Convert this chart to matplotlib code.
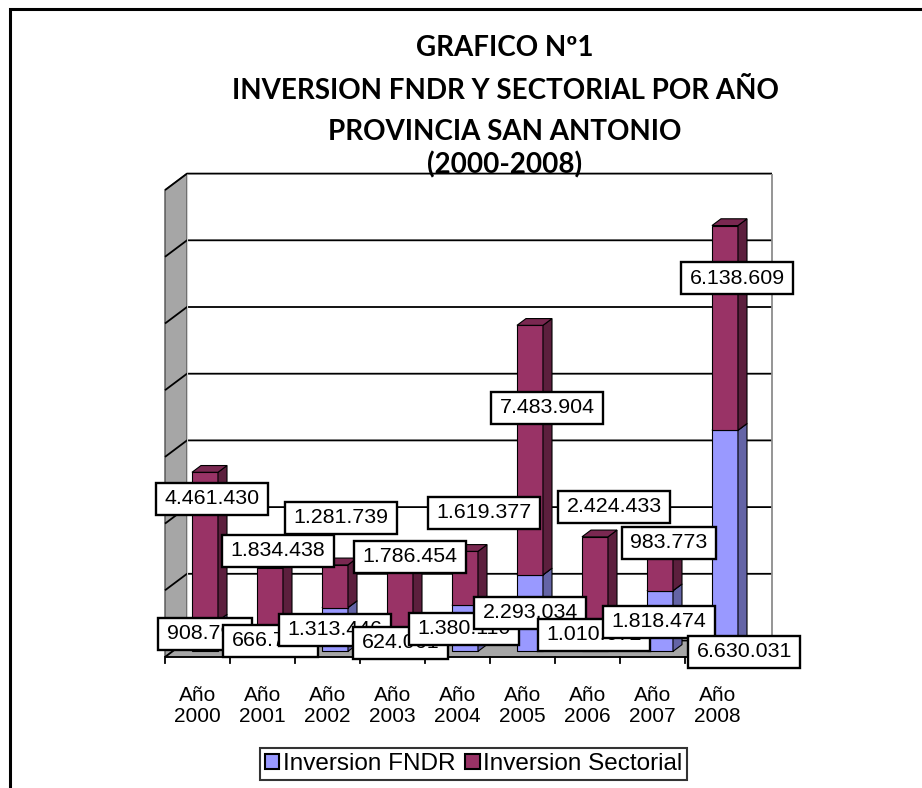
import matplotlib
matplotlib.use("Agg")
import matplotlib.pyplot as plt
from matplotlib.patches import Polygon, Patch, Rectangle
from matplotlib.path import Path

# datos
years = ["2000", "2001", "2002", "2003", "2004", "2005", "2006", "2007", "2008"]
fndr = [908795, 666754, 1313446, 624061, 1380110, 2293034, 1010672, 1818474, 6630031]
sectorial = [4461430, 1834438, 1281739, 1786454, 1619377, 7483904, 2424433, 983773, 6138609]
series_names = ["Inversion FNDR", "Inversion Sectorial"]
title_lines = ["GRAFICO Nº1", "INVERSION FNDR Y SECTORIAL POR AÑO",
               "PROVINCIA SAN ANTONIO", "(2000-2008)"]
y_max = 14  # millones
y_step = 2

# posicion de las etiquetas (desplazamiento en categorias, altura en millones)
fndr_lab_dx = [0.12, 0.12, 0.12, 0.12, 0.10, 0.12, 0.10, 0.10, 0.41]
fndr_lab_y = [0.69, 0.48, 0.81, 0.42, 0.84, 1.32, 0.66, 1.05, 0.15]
sect_lab_dx = [0.22, 0.24, 0.21, 0.27, 0.41, 0.38, 0.41, 0.25, 0.30]
sect_lab_y = [4.74, 3.18, 4.17, 3.00, 4.32, 7.47, 4.50, 3.42, 11.36]

# geometria (pixeles)
W, H = 922, 788
X0, Y0 = 165, 657     # esquina frontal izquierda del piso
CAT = 65.0            # px por categoria
MIL = 33.35           # px por millon
DX = 22 / CAT         # profundidad en x
DY = 16.5 / MIL       # profundidad en y
D0, D1 = 0.34, 0.75   # profundidad de las barras
BW = 0.2              # media anchura de barra

# colores (frente, lado, arriba)
c_fndr = ("#9999FF", "#6464A6", "#7F7FD6")
c_sect = ("#993366", "#5C1F3D", "#7A2851")
gray = "#A6A6A6"

lab_font = "Liberation Sans"


def P(x, v, d):
    return (x + d * DX, v + d * DY)


def face(ax, pts, fc, z, ec="black", lw=0.8):
    ax.add_patch(Polygon([P(*p) for p in pts], closed=True, facecolor=fc,
                         edgecolor=ec, lw=lw, zorder=z, joinstyle="miter"))


def line3d(ax, pts, color="black", lw=1.2, z=2):
    xy = [P(*p) for p in pts]
    ax.plot([p[0] for p in xy], [p[1] for p in xy], color=color, lw=lw,
            zorder=z, solid_capstyle="butt")


def fmt(v):
    return f"{v:,}".replace(",", ".")


# caja de etiqueta con mas margen a los lados que arriba/abajo
def label_box(x0, y0, width, height, mutation_size):
    px, py = 0.40 * mutation_size, 0.29 * mutation_size
    x0, y0 = x0 - px, y0 - py
    x1, y1 = x0 + width + 2 * px, y0 + height + 2 * py
    return Path([(x0, y0), (x1, y0), (x1, y1), (x0, y1), (x0, y0)], closed=True)


fig = plt.figure(figsize=(W / 100, H / 100), dpi=100)
ax = fig.add_axes([0, 0, 1, 1])
ax.set_xlim(-0.5 - X0 / CAT, -0.5 + (W - X0) / CAT)
ax.set_ylim((Y0 - H) / MIL, Y0 / MIL)
ax.axis("off")

n = len(years)
xl, xr = -0.5, n - 0.5

# paredes y piso
face(ax, [(xl, 0, 0), (xl, 0, 1), (xl, y_max, 1), (xl, y_max, 0)], gray, 1, ec="#505050", lw=1.0)
face(ax, [(xl, 0, 0), (xr, 0, 0), (xr, 0, 1), (xl, 0, 1)], gray, 1, ec="#505050", lw=0.8)
for g in range(0, y_max + 1, y_step):
    line3d(ax, [(xl, g, 0), (xl, g, 1), (xr, g, 1)], lw=1.3)
line3d(ax, [(xr, 0, 1), (xr, y_max, 1)], color="#8C8C8C", lw=1.3)
line3d(ax, [(xl, 0, 1), (xl, y_max, 1)], color="#D0D0D0", lw=0.8)

# eje x y marcas
line3d(ax, [(xl, 0, 0), (xr, 0, 0)], lw=1.3, z=3)
for k in range(n + 1):
    ax.plot([xl + k, xl + k], [0, -6 / MIL], color="black", lw=1.3, zorder=3)
for i, yr in enumerate(years):
    ax.text(i, -49 / MIL, "Año\n" + yr, ha="center", va="center", fontsize=15,
            family=lab_font, linespacing=1.1)

# barras apiladas
for i in range(n):
    segs = [(0, fndr[i] / 1e6, c_fndr),
            (fndr[i] / 1e6, (fndr[i] + sectorial[i]) / 1e6, c_sect)]
    for v0, v1, (cf, cs, ct) in segs:
        face(ax, [(i - BW, v0, D0), (i + BW, v0, D0), (i + BW, v1, D0), (i - BW, v1, D0)], cf, 4)
        face(ax, [(i + BW, v0, D0), (i + BW, v0, D1), (i + BW, v1, D1), (i + BW, v1, D0)], cs, 4)
        face(ax, [(i - BW, v1, D0), (i + BW, v1, D0), (i + BW, v1, D1), (i - BW, v1, D1)], ct, 4)

# etiquetas de datos
box = dict(boxstyle=label_box, fc="white", ec="black", lw=1.7)
for i in range(n):
    ax.text(i + fndr_lab_dx[i], fndr_lab_y[i], fmt(fndr[i]), ha="center",
            va="center", fontsize=15.4, family=lab_font, bbox=box, zorder=10 + i)
    ax.text(i + sect_lab_dx[i], sect_lab_y[i], fmt(sectorial[i]), ha="center",
            va="center", fontsize=15.4, family=lab_font, bbox=box, zorder=10 + i)

# titulo
title_y = [48, 91, 132, 165]
for t, yy in zip(title_lines, title_y):
    fig.text(505 / W, 1 - yy / H, t, ha="center", va="center", fontsize=20,
             fontweight="bold", family="Lato", zorder=20)

# leyenda
handles = [Patch(facecolor=c_fndr[0], edgecolor="black", lw=1.5),
           Patch(facecolor=c_sect[0], edgecolor="black", lw=1.5)]
leg = fig.legend(handles, series_names, loc="center", bbox_to_anchor=(473.5 / W, 1 - 764 / H),
                 ncol=2, prop={"family": lab_font, "size": 17.5}, frameon=True, fancybox=False,
                 edgecolor="black", handlelength=0.6, handleheight=0.6, handletextpad=0.15,
                 columnspacing=0.4, borderpad=0.2, borderaxespad=0)
leg.get_frame().set_linewidth(1.5)

# borde del area del grafico
fig.add_artist(Rectangle((10 / W, -0.1), 1.2, 1 - 9 / H + 0.1, transform=fig.transFigure,
                         fill=False, ec="black", lw=2.2))

plt.savefig("out.png", dpi=100)
